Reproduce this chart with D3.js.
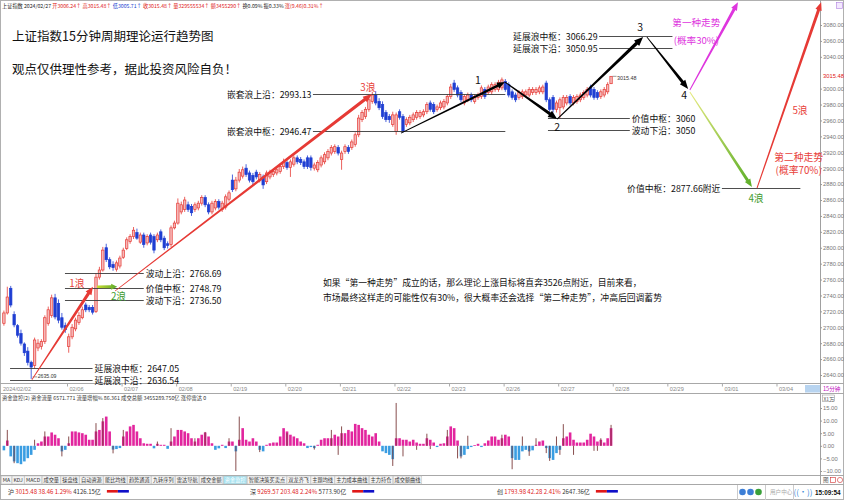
<!DOCTYPE html>
<html><head><meta charset="utf-8">
<script src="https://cdn.jsdelivr.net/npm/d3@7"></script>
<style>
body{margin:0;background:#fff}
svg{display:block}
text{font-family:"Noto Sans CJK SC","Noto Sans",sans-serif}
.num{font-family:"Liberation Sans","DejaVu Sans",sans-serif}
</style>
</head><body>
<svg id="c" width="844" height="500"></svg>
<script>
// ---------------- DATA ----------------
// 15-minute candles: [open, close, high, low]
const candles = [
[2705,2718,2721,2702],[2718,2738,2751,2716],[2749,2728,2752,2725],[2716,2703,2720,2700],[2702,2690,2704,2687],
[2692,2680,2697,2677],[2679,2668,2681,2664],[2670,2656,2675,2652],[2656,2650,2658,2635.09],[2652,2684,2687,2648],
[2674,2680,2685,2670],[2676,2682,2685,2672],[2682,2712,2715,2679],[2705,2722,2726,2702],[2715,2737,2741,2712],
[2737,2713,2742,2710],[2730,2709,2735,2705],[2712,2700,2718,2697],[2702,2697,2706,2693],[2676,2688,2692,2668],
[2688,2700,2704,2685],[2698,2709,2712,2695],[2706,2715,2719,2703],[2712,2722,2726,2710],[2728,2722,2731,2719],
[2725,2722,2728,2719],[2725,2719,2728,2716],[2720,2763,2768,2718],[2763,2772,2776,2760],[2772,2797,2801,2770],
[2800,2785,2805,2782],[2785,2776,2788,2773],[2779,2775,2783,2771],[2773,2781,2784,2770],[2777,2787,2790,2774],
[2788,2797,2800,2786],[2799,2810,2813,2797],[2808,2814,2817,2805],[2814,2822,2826,2811],[2819,2812,2824,2810],
[2807,2816,2819,2805],[2816,2804,2819,2800],[2806,2814,2817,2803],[2816,2807,2819,2804],[2814,2797,2817,2793],
[2810,2816,2819,2807],[2820,2810,2823,2807],[2812,2800,2815,2797],[2805,2803,2808,2799],[2804,2825,2828,2801],
[2825,2831,2834,2823],[2831,2856,2862,2829],[2845,2854,2858,2842],[2848,2860,2864,2845],[2854,2848,2858,2845],
[2852,2844,2855,2840],[2848,2854,2857,2845],[2850,2856,2859,2847],[2856,2863,2866,2853],[2863,2854,2866,2851],
[2854,2845,2857,2842],[2845,2856,2859,2842],[2850,2858,2861,2847],[2858,2851,2861,2848],[2848,2856,2859,2845],
[2851,2864,2867,2848],[2861,2869,2872,2858],[2885,2873,2892,2870],[2874,2885,2889,2871],[2885,2895,2899,2882],
[2890,2898,2902,2887],[2900,2892,2905,2889],[2894,2885,2897,2882],[2891,2883,2894,2879],[2895,2889,2898,2886],
[2885,2892,2895,2882],[2889,2879,2892,2874],[2883,2894,2897,2880],[2889,2895,2898,2886],[2892,2896,2899,2889],
[2894,2898,2901,2891],[2896,2902,2905,2893],[2902,2908,2912,2899],[2907,2901,2910,2898],[2901,2908,2911,2889],
[2905,2913,2916,2902],[2913,2908,2916,2905],[2911,2907,2914,2904],[2908,2902,2911,2899],[2913,2902,2916,2899],
[2913,2901,2916,2897],[2900,2904,2907,2897],[2898,2907,2910,2895],[2904,2913,2916,2901],[2908,2917,2920,2905],
[2913,2921,2924,2910],[2919,2926,2929,2916],[2921,2927,2930,2918],[2926,2919,2929,2916],[2911,2919,2922,2898],
[2921,2927,2930,2918],[2926,2921,2929,2918],[2926,2933,2936,2923],[2930,2942,2945,2927],[2942,2963,2967,2939],
[2961,2970,2973,2958],[2965,2974,2977,2962],[2974,2986,2989,2971],[2984,2992,2996,2981],[2992,2982,2997,2979],
[2984,2976,2988,2973],[2980,2965,2984,2962],[2970,2961,2973,2958],[2965,2961,2968,2957],[2955,2967,2971,2952],
[2946,2967,2970,2942],[2971,2964,2974,2961],[2965,2946,2968,2944.6],[2955,2961,2964,2952],[2957,2964,2967,2954],
[2961,2967,2970,2958],[2964,2970,2973,2961],[2965,2970,2973,2962],[2967,2971,2974,2964],[2971,2980,2983,2968],
[2982,2974,2985,2971],[2980,2971,2983,2968],[2974,2977,2980,2971],[2976,2982,2985,2973],[2977,2984,2987,2974],
[2982,2990,2993,2979],[2990,3002,3006,2987],[3007,2999,3011,2996],[3001,2992,3004,2989],[2995,2986,2998,2983],
[2982,2990,2993,2979],[2986,2992,2995,2983],[2992,2986,2995,2983],[2984,2990,2993,2981],[2989,2992,2995,2986],
[2990,3001,3004,2987],[2999,2990,3002,2987],[2995,3002,3005,2992],[2996,3005,3008,2993],[2999,3005,3008,2996],
[2999,3008,3011,2996],[3001,3011,3014,2998],[3009,2999,3012,2996],[3005,2992,3008,2989],[2996,2989,2999,2986],
[2992,2986,2995,2983],[2989,2995,2998,2986],[2990,2996,2999,2987],[2992,2996,2999,2989],[2992,2999,3002,2989],
[2995,2999,3002,2992],[2995,2999,3002,2992],[2996,3001,3004,2993],[2996,3002,3005,2993],[3007,2986,3010,2983],
[2986,2974,2989,2971],[2989,2974,2992,2970],[2974,2982,2985,2970],[2976,2986,2989,2962],[2977,2989,2992,2974],
[2982,2989,2992,2979],[2990,2982,2993,2979],[2982,2989,2992,2979],[2984,2990,2993,2981],[2986,2992,2995,2983],
[2989,2995,2998,2986],[2992,2999,3002,2989],[3002,2992,3005,2989],[2999,2989,3002,2986],[2995,2989,2998,2986],
[2990,2996,2999,2987],[2992,2999,3002,2989],[2996,3005,3008,2993],[3006.24,3015.48,3015.48,3005.71]
];

// fund-flow histogram (x1万), one per candle
const flow = [
-1.8,2.1,-4.2,-6.2,-6.9,-7.3,-6.2,-4.9,-3.6,-1.6,1,1.7,3.7,3.7,5.3,4.4,3,-2.2,-1.6,1,
5.7,5.7,5.3,5,4.4,2.4,2.4,5.7,6.3,9.7,11.6,5.7,-1.5,-1.3,-0.9,3.7,5.7,7.7,8.3,5.7,
3,1,0.8,0.8,-1,0.8,0.4,0.4,-1.2,1.7,3.7,6.3,6.3,5.7,5,3,1.7,3,4.4,5.3,
3.7,1,-1.6,-1,0.4,-0.9,1.7,1.7,-2.2,2.4,7,2.4,1.7,3,1.7,-1.6,-2.2,0.4,1,1.3,
1.3,3.7,7,5.7,4.4,3.7,3,1.7,1,-0.9,-0.5,-0.9,0.4,2.4,3,3,3,4.4,3.7,5,
5,6.3,5.7,8.7,8.3,7,6.3,4.4,3.7,5,1.7,-2.2,-2.9,-3.6,-5.3,3,3,2.4,2.4,1.7,
2.4,1.3,0.8,0.8,3,2.4,1.3,-0.5,0.8,1,3.7,7.7,7,2.1,-4.2,-3.6,-1.3,-0.5,0.3,0.8,
-0.5,1,2.1,3.7,3.7,2.4,3,4.4,3.7,-4.9,-5.6,-5.6,-2.2,-1.6,-2.2,-1.8,0.4,1.7,2.1,-0.9,
-4.9,-5.6,-2.9,-1.6,3,3.7,5.3,2.4,1.3,1.3,1.3,2.4,4.8,3.7,1.7,2.4,1.3,3,7
];
// thin flow-increase spikes: [candle index, value]
const flowSpikes = [
[1,6.3],[3,-6.9],[9,2.4],[12,5.7],[17,-4.2],[19,3.7],[27,9],[29,11],[32,-3],[35,6.3],
[45,1.7],[49,7],[56,3],[59,5.5],[66,3],[68,-10],[69,11.6],[75,-2.5],[83,5],[91,-1.5],
[96,6.3],[98,-3.6],[99,7.7],[114,-8],[115,17],[117,-4.2],[121,-1.6],[124,4.8],[125,-1.3],[130,6.3],
[133,-5],[134,-5],[136,4],[146,4.4],[149,-9.3],[152,3.7],[154,-4],[156,3],[159,-2.9],[160,-6],
[162,3.7],[163,-3.6],[164,8.6],[167,-3.6],[173,-2],[174,-2],[175,3],[178,8.3]
];

const priceTicks = [3080,3060,3040,3000,2980,2960,2940,2920,2900,2880,2860,2840,2820,2800,2780,2760,2740,2720,2700,2680,2660,2640];
const flowTicks = [15,10,5,0,-5,-10];
const firstDayLabel = "2024/02/02";
const dayLabels = ["02/06","02/07","02/08","02/19","02/20","02/21","02/22","02/23","02/26","02/27","02/28","02/29","03/01","03/04"];
const dayStartIdx = [18.5,34.5,50.5,66.5,82.5,98.5,114.5,130.5,146.5,162.5,178.5,194.5,210.5,226.5];
const lastPrice = 3015.48;
const lowPrice = 2635.09;

// horizontal level annotations [label, drawn price level, fromIdx, toIdx, textSide]
const levelLines = [
["嵌套浪上沿：2993.13",2993.13,90.6,147,"left"],
["嵌套浪中枢：2946.47",2946.47,90.6,147,"left"],
["延展浪中枢：3066.29",3066.29,174.5,196,"left"],
["延展浪下沿：3050.95",3050.95,174.5,196,"left"],
["价值中枢：3060",2962.5,159.5,183.5,"right"],
["波动下沿：3050",2948.5,159.5,183.5,"right"],
["价值中枢：2877.66附近",2875,210.5,233.5,"left"],
["波动上沿：2768.69",2768.69,17.9,41,"right"],
["价值中枢：2748.79",2749.5,17.9,41,"right"],
["波动下沿：2736.50",2734.5,17.9,41,"right"],
["延展浪中枢：2647.05",2648.5,1.8,26,"right"],
["延展浪下沿：2636.54",2633.5,1.8,26,"right"]
];

// wave arrows [name, [idx,price] from, [idx,price] to]
const waveSegments = [
["wave1",[8.2,2634],[26.1,2751]],
["wave2",[27.3,2751],[33.2,2751]],
["wave3",[32.6,2745.6],[107.9,2993.2]],
["sub",[116.4,2944.2],[146.9,3008.3]],
["k12",[146.9,3008.3],[162.2,2961.8]],
["k23",[162.2,2961.8],[187.4,3064.9]],
["k34",[188.5,3064.9],[200.6,2999.5]],
["path1",[201.1,2998.3],[215.2,3108.5]],
["path2",[201.1,2995.7],[219.3,2876.3]],
["wave5",[220.8,2875.1],[239.6,3108.5]]
];
// wave labels [text, idx, price, kind]
const waveLabels = [
["1",139,3011,"k"],["2",162.2,2951.5,"k"],["3",186.5,3077.5,"k"],["4",199.4,2992,"k"],
["1浪",21.4,2755,"r"],["2浪",33.6,2739,"g"],["3浪",106.7,3002,"r"],["4浪",220.5,2862.5,"g"],["5浪",233.4,2973,"r"],
["第一种走势",203,3082.5,"m"],["(概率30%)",203,3060,"m"],["第二种走势",233,2914,"r"],["(概率70%)",233,2897.5,"r"]
];

const titleText = "上证指数15分钟周期理论运行趋势图";
const subtitleText = "观点仅供理性参考，据此投资风险自负！";
const noteLines = ["如果“第一种走势”成立的话，那么理论上涨目标将直奔3526点附近，目前来看，",
"市场最终这样走的可能性仅有30%，很大概率还会选择“第二种走势”，冲高后回调蓄势"];
const headerParts = [["上证指数 2024/02/27 ","k"],["开3006.24↑ ","r"],["高3015.48↑ ","r"],["低3005.71↑ ","b"],["收3015.48↑ ","r"],["量329555534↑ ","r"],["额3455290↑ ","r"],["换0.09% 振0.33% ","k"],["涨(9.46)0.31%↑","r"]];
const flowHeader = "资金监控(2)  资金流量 6571.771  流量增幅% 86.361  成交总额 3455289.750亿  涨停雷达 0";
const tabs = ["MA","KDJ","MACD","成交量","操盘线","自动资源","能比均线","趋势通道","九转序列","雷达导航","成交金额","资金监控","智能决策买卖点","双龙齐飞","主题均线","主力成本曲线","主力持仓","成交额曲线"];
const activeTab = "资金监控";
const markets = [["沪","3015.48  38.46  1.29%","4126.15亿"],["深","9269.57  203.48  2.24%","5773.90亿"],["创","1793.98  42.28  2.41%","2647.36亿"]];
const clockText = "15:09:54";

// ---------------- LAYOUT / STYLE ----------------
const svg = d3.select("#c");
const X0 = 3.9, STEP = 3.411;
const x = d3.scaleLinear().domain([0, 239.3]).range([X0, X0 + 239.3 * STEP]);
const y = d3.scaleLinear().domain([2640, 3080]).range([375, 25]);
const yf = d3.scaleLinear().domain([-10, 15]).range([471, 408]);
const AX = 820;
const C = {red:"#e63a35", blue:"#1f3ed2", pink:"#e2259e", fblue:"#3a9de2", spike:"#7a3a3a",
  mag:"#de36de", green:"#3f9b2f"};

// frame
svg.append("rect").attr("x",0.5).attr("y",0.5).attr("width",843).attr("height",499).attr("fill","none").attr("stroke","#b0b0b0");
const hl = (y0, x1=0, x2=844, col="#a8a8a8") => svg.append("line").attr("x1",x1).attr("x2",x2).attr("y1",y0).attr("y2",y0).attr("stroke",col).attr("stroke-width",1);
hl(383.5,0,844); hl(393.5,0,844); hl(475.5,0,844); hl(484.5,0,844);
svg.append("line").attr("x1",AX+0.5).attr("x2",AX+0.5).attr("y1",0).attr("y2",484).attr("stroke","#a0a0a0");

// header row
const ht = svg.append("text").attr("x",2).attr("y",8).attr("font-size",5.2);
const hcol = {k:"#222", r:"#e02020", b:"#2040d0"};
headerParts.forEach(p => ht.append("tspan").text(p[0]).attr("fill", hcol[p[1]]));
svg.append("rect").attr("x",836.5).attr("y",2.5).attr("width",6).attr("height",6).attr("fill","#f4e8ff").attr("stroke","#b080e0").attr("stroke-width",0.6);

// title
svg.append("text").attr("x",12).attr("y",41).attr("font-size",12.5).attr("fill","#111").text(titleText);
svg.append("text").attr("x",12).attr("y",74).attr("font-size",12.5).attr("fill","#111").text(subtitleText);

// right price axis
const gy = svg.append("g").attr("transform",`translate(${AX},0)`)
  .call(d3.axisRight(y).tickValues(priceTicks).tickSize(2).tickFormat(d3.format(".2f")));
gy.select(".domain").remove();
gy.selectAll("line").attr("stroke","#999");
gy.selectAll("text").attr("class","num").attr("font-size",5.8).attr("fill","#777").attr("x",3);
svg.append("text").attr("class","num").attr("x",AX+3).attr("y",y(lastPrice)+2).attr("font-size",5.8).attr("fill","#e02020").text(lastPrice.toFixed(2));

// date axis
const gx = svg.append("g").attr("transform","translate(0,383.5)")
  .call(d3.axisBottom(x).tickValues(dayStartIdx).tickSize(3).tickFormat((d,i)=>dayLabels[i]));
gx.select(".domain").remove();
gx.selectAll("line").attr("stroke","#aaa");
gx.selectAll("text").attr("class","num").attr("font-size",5.6).attr("fill","#888").attr("text-anchor","start").attr("x",2).attr("y",7.6).attr("dy",0);
svg.append("text").attr("class","num").attr("x",3).attr("y",391.1).attr("font-size",5.6).attr("fill","#888").text(firstDayLabel);
svg.append("rect").attr("x",805).attr("y",385).attr("width",15).attr("height",7.5).attr("fill","#b8d4f0");
svg.append("text").attr("x",AX+3).attr("y",391).attr("font-size",5.6).attr("fill","#c010c0").text("15分钟");

// candles
const cw = 2.4;
const cg = svg.append("g");
const cs = cg.selectAll("g").data(candles).join("g");
cs.append("line")
  .attr("x1",(d,i)=>x(i)).attr("x2",(d,i)=>x(i))
  .attr("y1",d=>y(d[2])).attr("y2",d=>y(d[3]))
  .attr("stroke",d=>d[1]>=d[0]?C.red:C.blue).attr("stroke-width",0.8);
cs.append("rect")
  .attr("x",(d,i)=>x(i)-cw/2).attr("width",cw)
  .attr("y",d=>y(Math.max(d[0],d[1])))
  .attr("height",d=>Math.max(0.8, Math.abs(y(d[0])-y(d[1]))))
  .attr("fill",d=>d[1]>=d[0]?"#f5b8b8":C.blue)
  .attr("stroke",d=>d[1]>=d[0]?C.red:C.blue).attr("stroke-width",0.7);

// last price & low tags
const li = candles.length-1;
svg.append("path").attr("d",`M${x(li)+1.5},${y(lastPrice)}H${x(li)+5.5}`).attr("stroke","#555").attr("stroke-width",0.6);
svg.append("text").attr("class","num").attr("x",x(li)+6).attr("y",y(lastPrice)+4).attr("font-size",5.4).attr("fill","#333").text(lastPrice.toFixed(2));
svg.append("path").attr("d",`M${x(8)+1.5},${y(lowPrice)-2}H${x(8)+6}`).attr("stroke","#555").attr("stroke-width",0.6);
svg.append("text").attr("class","num").attr("x",x(8)+6.5).attr("y",y(lowPrice)-0.5).attr("font-size",5.2).attr("fill","#333").text(lowPrice.toFixed(2));

// level lines
const lfs = 8.8;
levelLines.forEach(L => {
  const yy = Math.round(y(L[1]))+0.5, xa = x(L[2]), xb = x(L[3]);
  svg.append("line").attr("x1",xa).attr("x2",xb).attr("y1",yy).attr("y2",yy).attr("stroke","#3a3a3a").attr("stroke-width",0.9);
  svg.append("text").attr("font-size",lfs).attr("fill","#111")
    .attr("x", L[4]==="left" ? xa-1.5 : xb+2).attr("text-anchor", L[4]==="left"?"end":"start")
    .attr("y", yy + lfs*0.36).text(L[0]);
});

// arrows
function arrowPath(p0,p1,w0,w1,hlen,hw){
  const dx=p1[0]-p0[0], dy=p1[1]-p0[1], Ln=Math.hypot(dx,dy), ux=dx/Ln, uy=dy/Ln, nx=-uy, ny=ux;
  const ex=p1[0]-ux*hlen, ey=p1[1]-uy*hlen;
  const pts=[[p0[0]+nx*w0/2,p0[1]+ny*w0/2],[ex+nx*w1/2,ey+ny*w1/2],[ex+nx*hw/2,ey+ny*hw/2],p1,
    [ex-nx*hw/2,ey-ny*hw/2],[ex-nx*w1/2,ey-ny*w1/2],[p0[0]-nx*w0/2,p0[1]-ny*w0/2]];
  return "M"+pts.map(p=>p[0].toFixed(2)+","+p[1].toFixed(2)).join("L")+"Z";
}
const defs = svg.append("defs");
const segStyle = {
  wave1:{fill:C.red,w0:0.8,w1:3.2,hl:8,hw:7},
  wave2:{fill:"url(#g2)",w0:2.4,w1:3,hl:6,hw:6},
  wave3:{fill:C.red,w0:0.8,w1:3.4,hl:9,hw:7},
  sub:{fill:"#000",w0:0.8,w1:2.6,hl:8,hw:6.5},
  k12:{fill:"#000",w0:1,w1:3.2,hl:9,hw:7.5},
  k23:{fill:"#000",w0:1,w1:3.4,hl:9,hw:7.5},
  k34:{fill:"#000",w0:0.8,w1:3,hl:9,hw:7},
  path1:{fill:C.mag,w0:1,w1:3,hl:8,hw:6.5},
  path2:{fill:"url(#g4)",w0:1,w1:3,hl:8,hw:6.5},
  wave5:{fill:C.red,w0:1,w1:3,hl:8,hw:6.5}
};
function grad(id,p0,p1,c0,c1){
  const g=defs.append("linearGradient").attr("id",id).attr("gradientUnits","userSpaceOnUse")
    .attr("x1",p0[0]).attr("y1",p0[1]).attr("x2",p1[0]).attr("y2",p1[1]);
  g.append("stop").attr("offset",0).attr("stop-color",c0);
  g.append("stop").attr("offset",1).attr("stop-color",c1);
}
waveSegments.forEach(s => {
  const p0=[x(s[1][0]),y(s[1][1])], p1=[x(s[2][0]),y(s[2][1])];
  if (s[0]==="wave2") grad("g2",p0,p1,"#c8dc30","#5aa82a");
  if (s[0]==="path2") grad("g4",p0,p1,"#e6ea80","#5cae28");
  const st=segStyle[s[0]];
  svg.append("path").attr("d",arrowPath(p0,p1,st.w0,st.w1,st.hl,st.hw)).attr("fill",st.fill);
});
const labCol = {k:"#111", r:"#e8413a", g:C.green, m:C.mag};
const labSize = {k:10.5, r:9.8, g:9.8, m:9.6};
waveLabels.forEach(l => {
  svg.append("text").attr("x",x(l[1])).attr("y",y(l[2])+labSize[l[3]]*0.36)
    .attr("text-anchor","middle").attr("font-size",labSize[l[3]]).attr("fill",labCol[l[3]]).text(l[0]);
});

// note text
noteLines.forEach((t,i)=>svg.append("text").attr("x",323).attr("y",286+i*15).attr("font-size",8.8).attr("fill","#111").text(t));

// ---------------- FLOW PANEL ----------------
svg.append("text").attr("x",2).attr("y",399.5).attr("font-size",5.3).attr("fill","#333").text(flowHeader);
const gf = svg.append("g").attr("transform",`translate(${AX},0)`)
  .call(d3.axisRight(yf).tickValues(flowTicks).tickSize(2).tickFormat(d3.format(".2f")));
gf.select(".domain").remove();
gf.selectAll("line").attr("stroke","#999");
gf.selectAll("text").attr("class","num").attr("font-size",5.8).attr("fill","#777").attr("x",3);
svg.append("rect").attr("x",AX+2.5).attr("y",395).attr("width",12).attr("height",6.5).attr("fill","none").attr("stroke","#888").attr("stroke-width",0.5);
svg.append("text").attr("x",AX+3.5).attr("y",400.5).attr("font-size",5).attr("fill","#555").text("X1万");

const bw = 2.6;
svg.append("g").selectAll("rect").data(flow).join("rect")
  .attr("x",(d,i)=>x(i)-bw/2).attr("width",bw)
  .attr("y",d=>yf(Math.max(0,d))).attr("height",d=>Math.abs(yf(d)-yf(0)))
  .attr("fill",d=>d>=0?C.pink:C.fblue);
svg.append("g").selectAll("line").data(flowSpikes).join("line")
  .attr("x1",d=>x(d[0])).attr("x2",d=>x(d[0]))
  .attr("y1",yf(0)).attr("y2",d=>yf(d[1]))
  .attr("stroke",C.spike).attr("stroke-width",0.9);

// ---------------- TABS ----------------
let tx = 1.5;
const tg = svg.append("g");
tabs.forEach(t => {
  const tt = tg.append("text").attr("x",tx+1.3).attr("y",482.2).attr("font-size",5.2).text(t);
  const w = tt.node().getComputedTextLength()+2.6;
  tg.insert("rect","text").attr("x",tx).attr("y",476).attr("width",w).attr("height",8)
    .attr("fill", t===activeTab?"#a6e2f0":"#f4f4f4").attr("stroke","#b8b8b8").attr("stroke-width",0.5);
  tt.attr("fill", t===activeTab?"#ffffff":"#333");
  tx += w + 0.6;
});
svg.append("text").attr("x",823).attr("y",482.3).attr("font-size",5.6).attr("fill","#555").text("图");
svg.append("rect").attr("x",830.5).attr("y",477.5).attr("width",5).attr("height",5).attr("fill","none").attr("stroke","#d03030").attr("stroke-width",0.6);
svg.append("circle").attr("cx",840).attr("cy",480).attr("r",2.6).attr("fill","none").attr("stroke","#d03030").attr("stroke-width",0.6);

// ---------------- STATUS BAR ----------------
const mx = [8,250,497];
markets.forEach((m,i) => {
  const t = svg.append("text").attr("x",mx[i]).attr("y",494).attr("font-size",6);
  t.append("tspan").attr("fill","#333").text(m[0]+" ");
  t.append("tspan").attr("fill","#e02020").text(m[1]+"  ");
  t.append("tspan").attr("fill","#333").text(m[2]);
  const e = mx[i] + t.node().getComputedTextLength() + 6;
  svg.append("rect").attr("x",e).attr("y",490).attr("width",11).attr("height",2.6).attr("fill","#e01818");
  svg.append("rect").attr("x",e+11).attr("y",490).attr("width",11).attr("height",2.6).attr("fill","#1010c8");
});
svg.append("line").attr("x1",737.5).attr("x2",737.5).attr("y1",485).attr("y2",500).attr("stroke","#ccc");
svg.append("line").attr("x1",765.5).attr("x2",765.5).attr("y1",485).attr("y2",500).attr("stroke","#ccc");
[["#3d7fd6",742.5],["#3d7fd6",750.5],["#3aa03a",758.5]].forEach(c=>
  svg.append("circle").attr("cx",c[1]).attr("cy",492).attr("r",3.3).attr("fill",c[0]));
svg.append("text").attr("x",770).attr("y",494).attr("font-size",5.6).attr("fill","#aaa").text("用户中心");
svg.append("line").attr("x1",793.5).attr("x2",793.5).attr("y1",485).attr("y2",500).attr("stroke","#ccc");
svg.append("text").attr("x",803).attr("y",495).attr("text-anchor","middle").attr("font-size",8).attr("fill","#3a8ad8").text("((·))");
svg.append("text").attr("class","num").attr("x",815).attr("y",494.5).attr("font-size",6.4).attr("font-weight","bold").attr("fill","#111").text(clockText);
</script>
</body></html>
